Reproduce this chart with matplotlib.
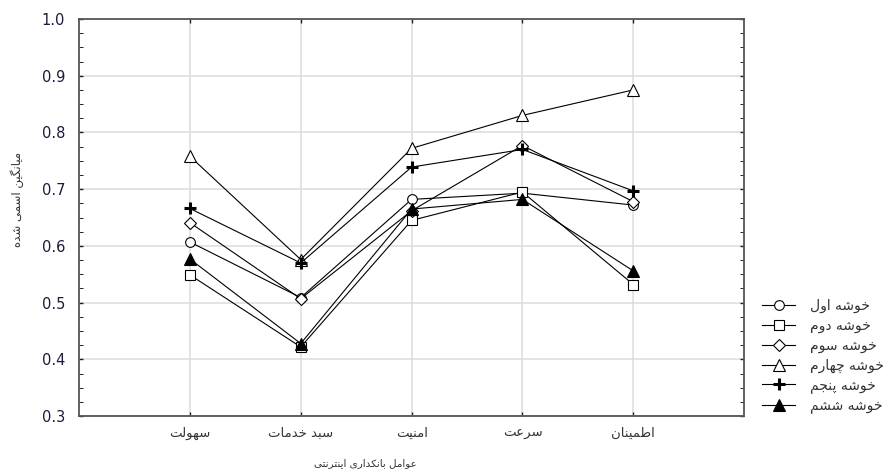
import matplotlib
matplotlib.use('Agg')
import matplotlib.pyplot as plt
from matplotlib.ticker import MultipleLocator, FixedLocator

# داده‌ها (خوانده شده از نمودار)
categories = ['سهولت', 'سبد خدمات', 'امنیت', 'سرعت', 'اطمینان']
cluster_names = ['خوشه اول', 'خوشه دوم', 'خوشه سوم', 'خوشه چهارم', 'خوشه پنجم', 'خوشه ششم']
khooshe_1 = [0.607, 0.509, 0.682, 0.693, 0.672]
khooshe_2 = [0.549, 0.422, 0.645, 0.695, 0.532]
khooshe_3 = [0.641, 0.507, 0.662, 0.777, 0.678]
khooshe_4 = [0.758, 0.576, 0.772, 0.830, 0.875]
khooshe_5 = [0.666, 0.570, 0.739, 0.770, 0.697]
khooshe_6 = [0.577, 0.428, 0.665, 0.682, 0.556]
x_label = 'عوامل بانکداری اینترنتی'
y_label = 'میانگین اسمی شده'

# شکل‌دهی حروف فارسی (matplotlib خودش حروف را به هم نمی‌چسباند)
FORMS = {
    'ا': ('\uFE8D', '\uFE8E', None, None),
    'ب': ('\uFE8F', '\uFE90', '\uFE91', '\uFE92'),
    'پ': ('\uFB56', '\uFB57', '\uFB58', '\uFB59'),
    'ت': ('\uFE95', '\uFE96', '\uFE97', '\uFE98'),
    'ج': ('\uFE9D', '\uFE9E', '\uFE9F', '\uFEA0'),
    'چ': ('\uFB7A', '\uFB7B', '\uFB7C', '\uFB7D'),
    'خ': ('\uFEA5', '\uFEA6', '\uFEA7', '\uFEA8'),
    'د': ('\uFEA9', '\uFEAA', None, None),
    'ر': ('\uFEAD', '\uFEAE', None, None),
    'س': ('\uFEB1', '\uFEB2', '\uFEB3', '\uFEB4'),
    'ش': ('\uFEB5', '\uFEB6', '\uFEB7', '\uFEB8'),
    'ط': ('\uFEC1', '\uFEC2', '\uFEC3', '\uFEC4'),
    'ع': ('\uFEC9', '\uFECA', '\uFECB', '\uFECC'),
    'ک': ('\uFB8E', '\uFB8F', '\uFB90', '\uFB91'),
    'گ': ('\uFB92', '\uFB93', '\uFB94', '\uFB95'),
    'ل': ('\uFEDD', '\uFEDE', '\uFEDF', '\uFEE0'),
    'م': ('\uFEE1', '\uFEE2', '\uFEE3', '\uFEE4'),
    'ن': ('\uFEE5', '\uFEE6', '\uFEE7', '\uFEE8'),
    'ه': ('\uFEE9', '\uFEEA', '\uFEEB', '\uFEEC'),
    'و': ('\uFEED', '\uFEEE', None, None),
    'ی': ('\uFBFC', '\uFBFD', '\uFBFE', '\uFBFF'),
}


def fa(text):
    out = []
    for i, ch in enumerate(text):
        f = FORMS.get(ch)
        if f is None:
            out.append(ch)
            continue
        prev = text[i - 1] if i > 0 else None
        nxt = text[i + 1] if i < len(text) - 1 else None
        join_prev = prev in FORMS and FORMS[prev][2] is not None
        join_next = f[2] is not None and nxt in FORMS
        if join_prev and join_next:
            out.append(f[3])
        elif join_prev:
            out.append(f[1])
        elif join_next:
            out.append(f[2])
        else:
            out.append(f[0])
    return ''.join(reversed(out))


plt.rcParams['font.family'] = ['DejaVu Sans']

fig = plt.figure(figsize=(8.88, 4.74), dpi=100)
ax = fig.add_axes([0.089, 0.122, 0.749, 0.838])

series = [khooshe_1, khooshe_2, khooshe_3, khooshe_4, khooshe_5, khooshe_6]
markers = ['o', 's', 'D', '^', 'P', '^']
faces = ['white', 'white', 'white', 'white', 'black', 'black']
sizes = [7, 7, 6, 8, 8, 8]
x = list(range(len(categories)))

for vals, m, fc, ms, name in zip(series, markers, faces, sizes, cluster_names):
    if m == 'P':
        ax.plot(x, vals, color='black', lw=0.8, marker='+', ms=9, mew=2.2,
                label=fa(name))
    else:
        ax.plot(x, vals, color='black', lw=0.8, marker=m, ms=ms, mfc=fc,
                mec='black', mew=0.8, label=fa(name))

ax.set_xlim(-1, 5)
ax.set_ylim(0.3, 1.0)
ax.xaxis.set_major_locator(FixedLocator(x))
ax.set_xticklabels([fa(c) for c in categories], fontsize=9.5, color='#333333')
ax.yaxis.set_major_locator(MultipleLocator(0.1))
ax.yaxis.set_minor_locator(MultipleLocator(0.025))
ax.yaxis.set_major_formatter(plt.FormatStrFormatter('%.1f'))
for lab in ax.get_yticklabels():
    lab.set_fontsize(10.5)
    lab.set_color('#1c1c3c')

ax.grid(True, color='#dcdcdc', lw=1.1)
ax.set_axisbelow(True)
ax.tick_params(direction='in', top=True, right=True, length=3, width=1,
               color='#222222')
ax.tick_params(axis='y', which='major', pad=10)
ax.tick_params(axis='x', pad=8)
ax.tick_params(axis='y', which='minor', direction='in', right=True, length=3)
for s in ax.spines.values():
    s.set_color('#555555')
    s.set_linewidth(1.3)

ax.set_xlabel(fa(x_label), fontsize=7.5, color='#333333', va='center')
ax.xaxis.set_label_coords(0.43, -0.118)
ax.set_ylabel(fa(y_label), fontsize=8.5, color='#333333')
ax.yaxis.set_label_coords(-0.083, 0.545)

ax.legend(loc='center left', bbox_to_anchor=(1.027, 0.151), frameon=False,
          fontsize=10, handlelength=2.4, handletextpad=1.05, labelspacing=0.4,
          borderpad=0, borderaxespad=0, labelcolor='#333333')

fig.savefig('out.png', dpi=100)
